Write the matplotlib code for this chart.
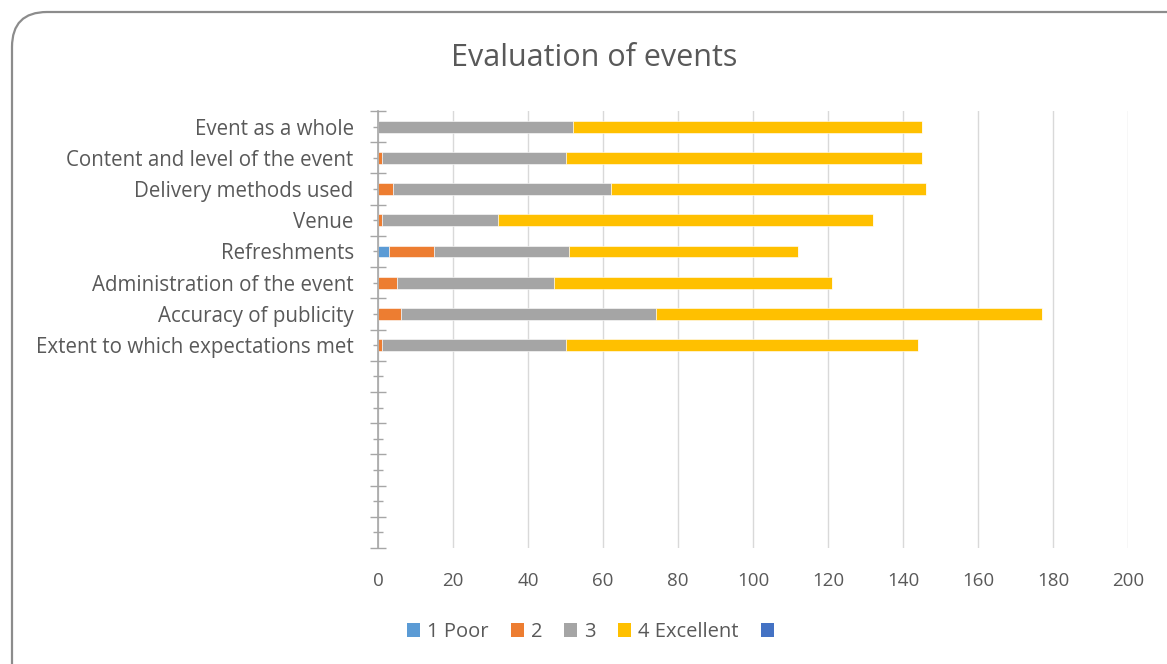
import matplotlib.pyplot as plt
from matplotlib.patches import FancyBboxPatch, Patch

# categories top to bottom; the chart keeps 6 empty slots below them
categories = ['Event as a whole', 'Content and level of the event',
              'Delivery methods used', 'Venue', 'Refreshments',
              'Administration of the event', 'Accuracy of publicity',
              'Extent to which expectations met']
empty_slots = 6

poor = [0, 0, 0, 0, 3, 0, 0, 0]
two = [0, 1, 4, 1, 12, 5, 6, 1]
three = [52, 49, 58, 31, 36, 42, 68, 49]
excellent = [93, 95, 84, 100, 61, 74, 103, 94]
blank = [0, 0, 0, 0, 0, 0, 0, 0]

series_names = ['1 Poor', '2', '3', '4 Excellent', '']
colors = ['#5b9bd5', '#ed7d31', '#a5a5a5', '#ffc000', '#4472c4']
x_ticks = list(range(0, 201, 20))

plt.rcParams['font.family'] = ['Open Sans', 'DejaVu Sans']
text_color = '#595959'

fig = plt.figure(figsize=(11.67, 6.64), dpi=100)

# chart border (rounded, cut by the right and bottom edges)
border = FancyBboxPatch((12 / 1167, -0.1), 1.1, 1.1 - 12 / 664,
                        boxstyle='round,pad=0,rounding_size=0.03',
                        transform=fig.transFigure, facecolor='none',
                        edgecolor='#8c8c8c', linewidth=1.6,
                        mutation_aspect=1167 / 664)
fig.patches.append(border)

ax = fig.add_axes([378 / 1167, 1 - 548 / 664, 750 / 1167, 437 / 664])

ypos = list(range(len(categories)))
left = [0] * len(categories)
for vals, col, name in zip([poor, two, three, excellent, blank], colors, series_names):
    ax.barh(ypos, vals, left=left, height=0.38, color=col,
            edgecolor='white', linewidth=0.4, zorder=3)
    left = [a + b for a, b in zip(left, vals)]

n_slots = len(categories) + empty_slots
ax.set_ylim(n_slots - 0.5, -0.5)
ax.set_xlim(0, 200)
ax.set_xticks(x_ticks)
ax.set_yticks(range(n_slots))
ax.set_yticklabels(categories + [''] * empty_slots)
ax.set_yticks([k - 0.5 for k in range(n_slots + 1)], minor=True)

ax.grid(axis='x', color='#d9d9d9', linewidth=1, zorder=0)
for side in ['top', 'right', 'bottom']:
    ax.spines[side].set_visible(False)
ax.spines['left'].set_color('#a6a6a6')
ax.spines['left'].set_linewidth(1.2)
ax.spines['left'].set_zorder(4)

ax.tick_params(axis='x', length=0, pad=17, labelsize=13.5, labelcolor=text_color)
ax.tick_params(axis='y', which='major', direction='inout', length=7,
               color='#a6a6a6', width=1, pad=14, labelsize=14.8,
               labelcolor=text_color)
ax.tick_params(axis='y', which='minor', direction='inout', length=11.5,
               color='#a6a6a6', width=1)

fig.text(594 / 1167, 1 - 58 / 664, 'Evaluation of events', ha='center',
         va='center', fontsize=22, color=text_color)

handles = [Patch(facecolor=c) for c in colors]
fig.legend(handles, series_names, loc='center', ncol=5,
           bbox_to_anchor=(594 / 1167, 1 - 632 / 664), frameon=False,
           fontsize=14.5, labelcolor=text_color, handlelength=0.65,
           handleheight=0.65, handletextpad=0.35, columnspacing=1.1)

fig.savefig('out.png', dpi=100)
